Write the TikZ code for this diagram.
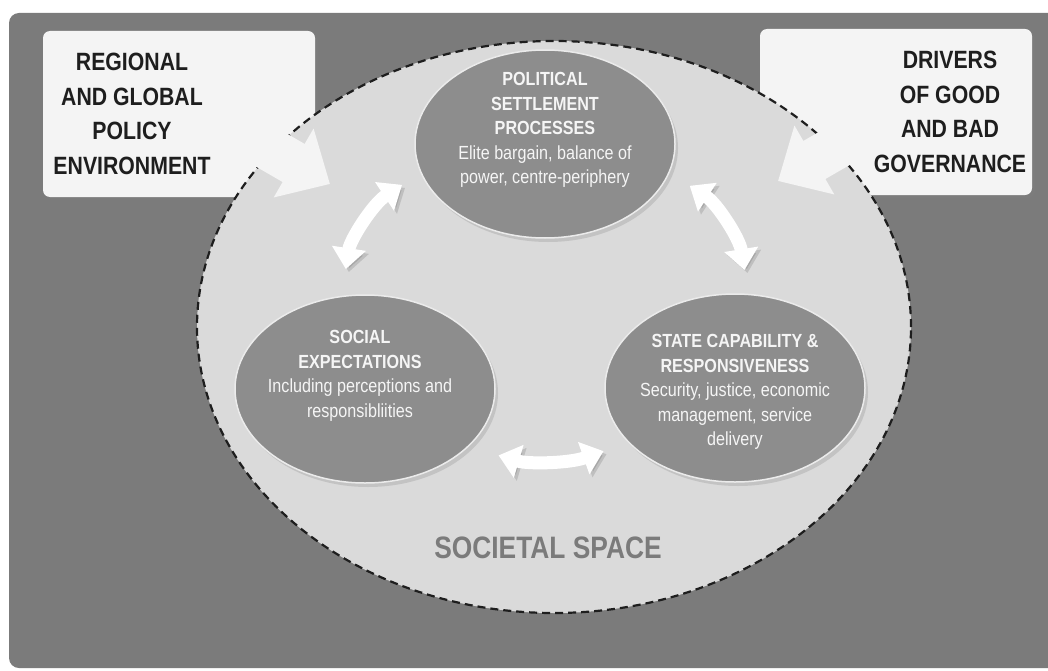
\documentclass[tikz,border=0pt]{standalone}
\usepackage{fontspec}
\setmainfont[FakeStretch=0.85]{Liberation Sans}
\usetikzlibrary{arrows.meta,shadows,shapes.geometric}

\definecolor{backgray}{HTML}{7B7B7B}
\definecolor{spacegray}{HTML}{DADADA}
\definecolor{issuegray}{HTML}{8D8D8D}
\definecolor{boxwhite}{HTML}{F4F4F4}
\definecolor{boxink}{HTML}{1E1E1E}

\tikzset{
  spacering/.style={ellipse, draw=boxink, fill=spacegray, line width=2.2pt,
    dash pattern=on 8pt off 5pt, minimum width=714pt, minimum height=572pt, inner sep=0pt},
  spacelabel/.style={text=backgray, font=\bfseries\fontsize{31}{36}\selectfont},
  cornerbox/.style={fill=boxwhite, rounded corners=7pt, inner sep=0pt,
    minimum width=272pt, minimum height=166pt,
    drop shadow={opacity=0.3, shadow xshift=3pt, shadow yshift=-3pt}},
  boxtext/.style={align=center, text=boxink, font=\bfseries\fontsize{25}{34.5}\selectfont},
  inarrow/.style={draw=boxwhite, line width=44pt, -{Triangle[width=77pt,length=42pt]}},
  issue/.style={ellipse, fill=issuegray, draw=white!92!black, line width=1.5pt,
    minimum width=260pt, minimum height=188pt, inner sep=0pt,
    drop shadow={opacity=0.25, shadow xshift=3pt, shadow yshift=-4pt}},
  issuetext/.style={align=center, text=white!96!black, font=\fontsize{19}{24.5}\selectfont},
  linkarrow/.style={draw=white, line width=13pt,
    {Triangle[width=33pt,length=21pt]}-{Triangle[width=33pt,length=21pt]},
    preaction={draw=black, opacity=0.12, transform canvas={shift={(3pt,-3pt)}}}}
}

\begin{document}
\begin{tikzpicture}[x=1pt,y=-1pt]
  \useasboundingbox (0,0) rectangle (1048,671);
  \clip (0,0) rectangle (1048,671);

  % Frame
  \fill[white] (0,0) rectangle (1048,671);
  \fill[backgray, rounded corners=10pt] (9,13) rectangle (1070,668);

  % Outside influences (under the societal space)
  \node[cornerbox] (reg) at (179,114) {};
  \node[cornerbox] (drv) at (896,112) {};

  % Societal space
  \node[spacering] (space) at (554,327) {};
  \node[spacelabel] (spacelbl) at (548,548) {SOCIETAL SPACE};

  % Arrows pushing in
  \coordinate (regtail) at (183,99);
  \coordinate (regtip) at (330,184);
  \coordinate (drvtail) at (925,96);
  \coordinate (drvtip) at (778,181);
  \draw[inarrow] (regtail) -- (regtip);
  \draw[inarrow] (drvtail) -- (drvtip);
  \node[boxtext] (regtxt) at (132,114) {REGIONAL\\AND GLOBAL\\POLICY\\ENVIRONMENT};
  \node[boxtext] (drvtxt) at (950,112) {DRIVERS\\OF GOOD\\AND BAD\\GOVERNANCE};

  % The three issues
  \node[issue] (pol) at (545,144) {};
  \node[issue] (soc) at (365,389) {};
  \node[issue] (cap) at (735,388) {};
  \node[issuetext] (poltxt) at (545,130)
    {\textbf{POLITICAL}\\\textbf{SETTLEMENT}\\\textbf{PROCESSES}\\Elite bargain, balance of\\power, centre-periphery};
  \node[issuetext] (soctxt) at (360,376)
    {\textbf{SOCIAL}\\\textbf{EXPECTATIONS}\\Including perceptions and\\responsibliities};
  \node[issuetext] (captxt) at (735,392)
    {\textbf{STATE CAPABILITY \&}\\\textbf{RESPONSIVENESS}\\Security, justice, economic\\management, service\\delivery};

  % Links between them
  \draw[linkarrow, shorten <=22pt, shorten >=27pt] (pol.193) to[bend right=24] (soc.104);
  \draw[linkarrow, shorten <=24pt, shorten >=24pt] (pol.347) to[bend left=24] (cap.82);
  \draw[linkarrow, shorten <=31pt, shorten >=26pt] (soc.331) to[bend right=18] (cap.207);
\end{tikzpicture}
\end{document}
